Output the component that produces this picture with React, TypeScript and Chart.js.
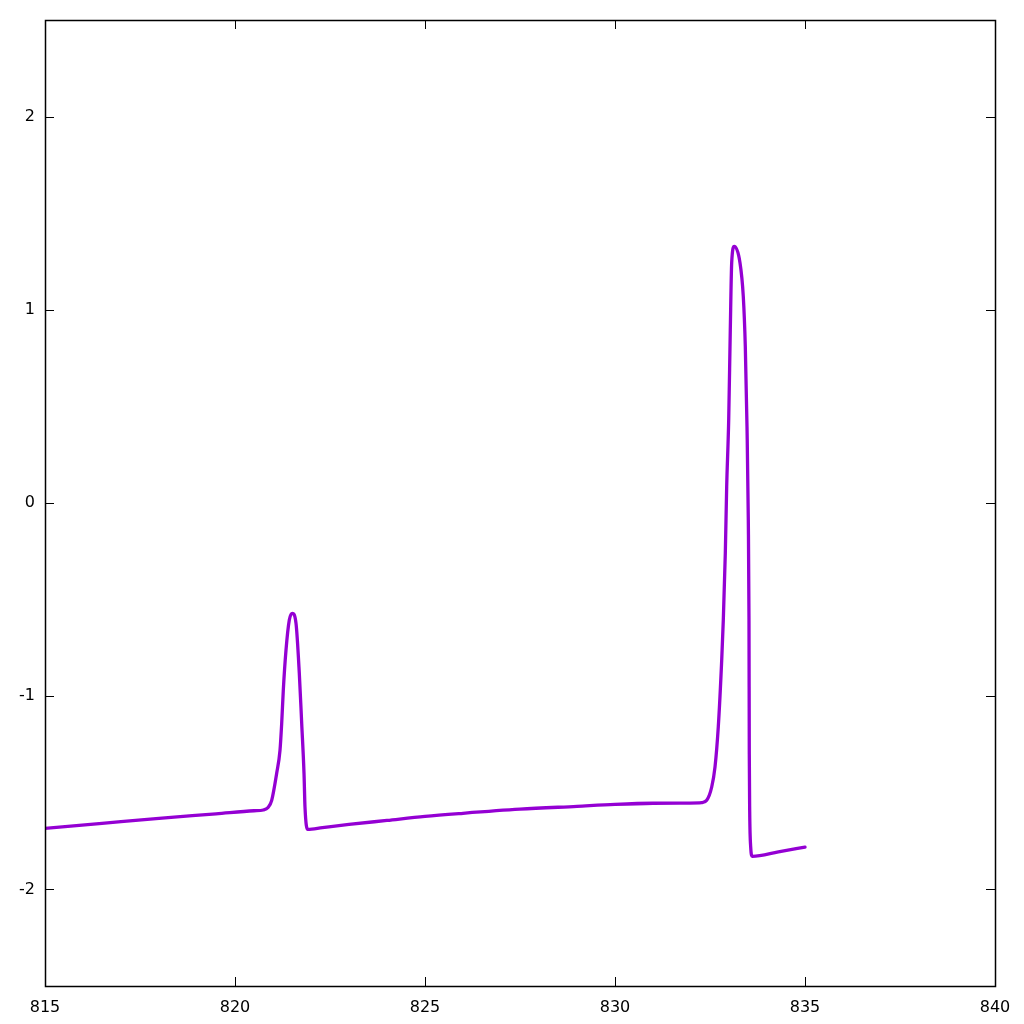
import React, { useEffect, useRef } from "react";
import { Chart, registerables } from "chart.js";

Chart.register(...registerables);

const xValues: number[] = [
  815.0, 816.5, 818.0, 819.5, 820.5, 820.745, 820.87, 820.966, 821.097, 821.184, 821.229, 821.271,
  821.342, 821.429, 821.508, 821.605, 821.692, 821.755, 821.816, 821.842, 821.913,
  822.3, 823.0, 824.0, 825.0, 826.0, 827.5, 829.0, 830.0, 831.0, 831.974,
  832.282, 832.413, 832.545, 832.632, 832.718, 832.808, 832.850, 832.903, 832.939, 832.992,
  833.034, 833.071, 833.139, 833.289, 833.376, 833.429, 833.474, 833.508, 833.526,
  833.534, 833.545, 833.571, 833.613, 834.3, 835.0,
];

const yValues: number[] = [
  -1.684, -1.658, -1.632, -1.609, -1.593, -1.589, -1.576, -1.539, -1.399, -1.280, -1.140, -0.969,
  -0.762, -0.606, -0.571, -0.622, -0.881, -1.140, -1.399, -1.575, -1.689,
  -1.680, -1.664, -1.643, -1.622, -1.606, -1.585, -1.570, -1.560, -1.554, -1.553,
  -1.551, -1.539, -1.470, -1.366, -1.159, -0.813, -0.606, -0.259, 0.084, 0.430,
  0.896, 1.244, 1.328, 1.244, 1.069, 0.810, 0.394, -0.088, -0.606,
  -1.300, -1.600, -1.781, -1.829, -1.806, -1.781,
];

const xTicks: number[] = [815, 820, 825, 830, 835, 840];
const yTicks: number[] = [-2, -1, 0, 1, 2];

const FONT = "'DejaVu Sans', sans-serif";

const frameTicks = {
  id: "frameTicks",
  afterDraw(chart: any) {
    const { ctx, chartArea } = chart;
    const { left, right, top, bottom } = chartArea;
    const xs = chart.scales.x;
    const ys = chart.scales.y;
    const L = 9;
    ctx.save();
    ctx.strokeStyle = "#000";
    ctx.lineWidth = 1;
    ctx.beginPath();
    for (const v of xTicks) {
      const px = Math.round(xs.getPixelForValue(v)) + 0.5;
      ctx.moveTo(px, bottom);
      ctx.lineTo(px, bottom - L);
      ctx.moveTo(px, top);
      ctx.lineTo(px, top + L);
    }
    for (const v of yTicks) {
      const py = Math.round(ys.getPixelForValue(v)) + 0.5;
      ctx.moveTo(left, py);
      ctx.lineTo(left + L, py);
      ctx.moveTo(right, py);
      ctx.lineTo(right - L, py);
    }
    ctx.stroke();
    ctx.lineWidth = 1.5;
    ctx.strokeRect(Math.round(left) + 0.5, Math.round(top) + 0.5, Math.round(right - left), Math.round(bottom - top));
    ctx.restore();
  },
};

export default function App() {
  const ref = useRef<HTMLCanvasElement | null>(null);

  useEffect(() => {
    document.body.style.margin = "0";
    const canvas = ref.current;
    if (!canvas) return;
    const data = xValues.map((x, i) => ({ x, y: yValues[i] }));
    const chart = new Chart(canvas, {
      type: "scatter",
      data: {
        datasets: [
          {
            data,
            showLine: true,
            borderColor: "#9400D3",
            backgroundColor: "#9400D3",
            borderWidth: 3.3,
            pointRadius: 0,
            cubicInterpolationMode: "monotone",
            borderJoinStyle: "round",
            borderCapStyle: "round",
          } as any,
        ],
      },
      options: {
        responsive: false,
        animation: false,
        layout: { padding: { top: 20, right: 29, left: 0, bottom: 0 } },
        plugins: { legend: { display: false }, tooltip: { enabled: false } },
        scales: {
          x: {
            type: "linear",
            min: 815,
            max: 840,
            grid: { display: false, drawTicks: false },
            border: { display: false },
            afterBuildTicks: (scale: any) => {
              scale.ticks = xTicks.map((v) => ({ value: v }));
            },
            afterFit: (scale: any) => {
              scale.height = 38;
            },
            ticks: {
              padding: 12,
              color: "#000",
              font: { family: FONT, size: 16 },
              maxRotation: 0,
              autoSkip: false,
              callback: (v: any) => String(v),
            },
          },
          y: {
            type: "linear",
            min: -2.5,
            max: 2.5,
            grid: { display: false, drawTicks: false },
            border: { display: false },
            afterBuildTicks: (scale: any) => {
              scale.ticks = yTicks.map((v) => ({ value: v }));
            },
            afterFit: (scale: any) => {
              scale.width = 45;
            },
            ticks: {
              padding: 10,
              color: "#000",
              font: { family: FONT, size: 16 },
              autoSkip: false,
              callback: (v: any) => String(v),
            },
          },
        },
      },
      plugins: [frameTicks],
    });
    return () => chart.destroy();
  }, []);

  return (
    <div style={{ width: 1024, height: 1024, background: "#fff" }}>
      <canvas ref={ref} width={1024} height={1024} style={{ display: "block" }} />
    </div>
  );
}
